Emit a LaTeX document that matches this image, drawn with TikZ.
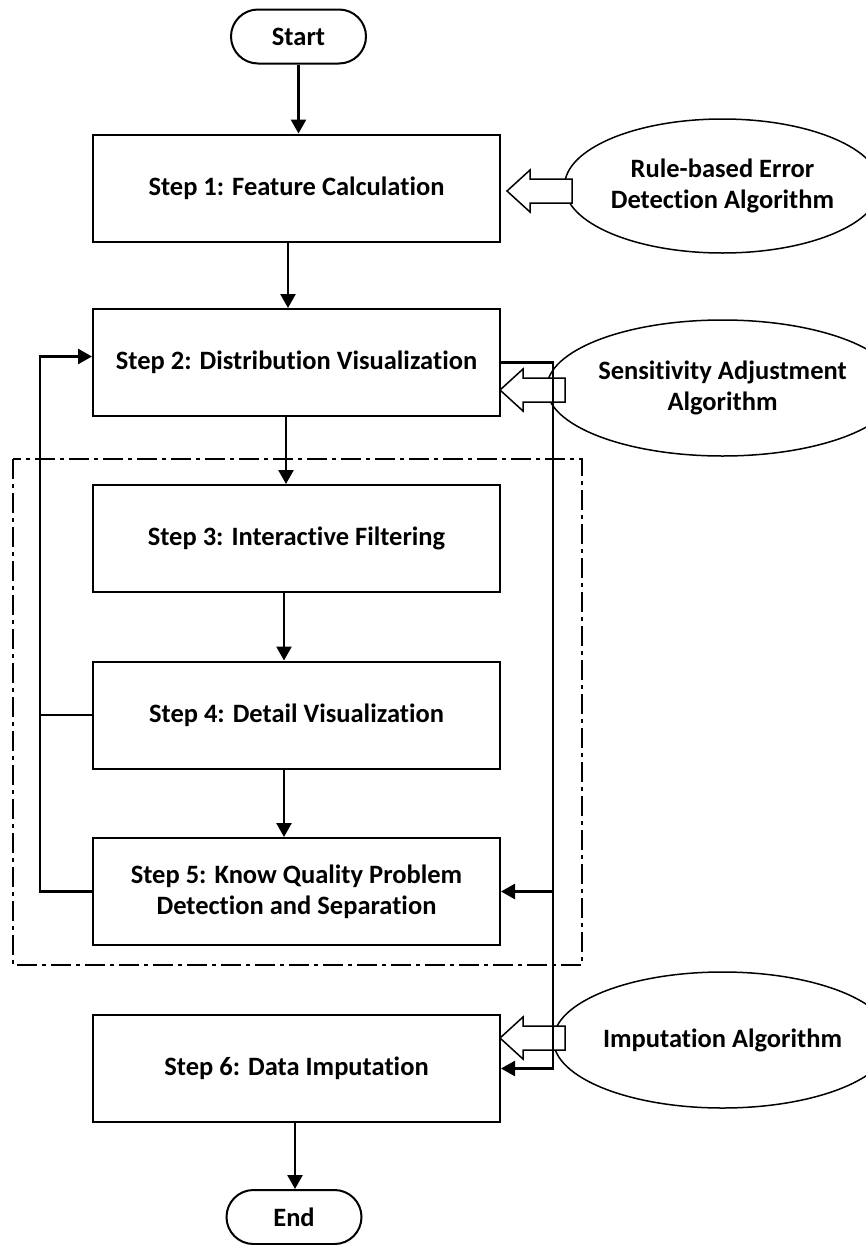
\documentclass[tikz,border=0pt]{standalone}
\usepackage{fontspec}
\setmainfont{Carlito}[Ligatures=NoCommon]
\usetikzlibrary{arrows.meta,shapes.geometric}
\begin{document}
\begin{tikzpicture}[x=1pt,y=-1pt,
  every node/.style={font=\fontsize{26.5}{31}\selectfont\bfseries, align=center},
  stepbox/.style={draw, line width=2pt, minimum width=407pt, minimum height=107pt, inner sep=0pt},
  term/.style={draw, line width=2pt, minimum width=135pt, minimum height=54pt, rounded corners=27pt, inner sep=0pt},
  algo/.style={draw, ellipse, line width=1.5pt, inner sep=0pt},
  conn/.style={line width=2.6pt, -{Triangle[length=14pt,width=15pt]}},
  plainline/.style={line width=2.6pt},
  frame/.style={line width=1.5pt, dash pattern=on 20pt off 5pt on 4pt off 5pt},
  hollow/.pic={\draw[line width=1.5pt, fill=white, line join=miter] (0,0) -- (23,-21) -- (23,-12) -- (65,-12) -- (65,12) -- (23,12) -- (23,21) -- cycle;}
]
\useasboundingbox (0,0) rectangle (865,1245);

% frame
\draw[frame] (13,459) rectangle (582,965);

% nodes
\node[term] (start) at (298.5,36.5) {Start};
\node[stepbox] (s1) at (296.5,188) {Step 1: Feature Calculation};
\node[stepbox] (s2) at (296.5,362.5) {Step 2: Distribution Visualization};
\node[stepbox] (s3) at (296.5,538.5) {Step 3: Interactive Filtering};
\node[stepbox] (s4) at (296.5,715) {Step 4: Detail Visualization};
\node[stepbox] (s5) at (296.5,891.5) {Step 5: Know Quality Problem\\Detection and Separation};
\node[stepbox] (s6) at (296.5,1068.5) {Step 6: Data Imputation};
\node[term] (end) at (294,1217) {End};

\node[algo, minimum width=283pt, minimum height=134pt] (e1) at (722.5,186) {Rule-based Error\\Detection Algorithm};
\node[algo, minimum width=283pt, minimum height=136pt] (e2) at (722.5,388) {Sensitivity Adjustment\\Algorithm};
\node[algo, minimum width=283pt, minimum height=136pt] (e3) at (722.5,1040) {Imputation Algorithm};

% hollow arrows
\pic at (507,191) {hollow};
\pic at (500,390) {hollow};
\pic at (500,1038) {hollow};

% main flow
\draw[conn] (start.south) -- (start.south |- s1.north);
\draw[conn] ([xshift=-8.5pt]s1.south) -- ([xshift=-8.5pt]s1.south |- s2.north);
\draw[conn] ([xshift=-10.5pt]s2.south) -- ([xshift=-10.5pt]s2.south |- s3.north);
\draw[conn] ([xshift=-12.5pt]s3.south) -- ([xshift=-12.5pt]s3.south |- s4.north);
\draw[conn] ([xshift=-12.5pt]s4.south) -- ([xshift=-12.5pt]s4.south |- s5.north);
\draw[conn] ([xshift=-1.5pt]s6.south) -- ([xshift=-1.5pt]s6.south |- end.north);

% right loop
\coordinate (rx) at (553,0);
\draw[conn] (s2.east) -| (rx |- s6.east) -- (s6.east);
\draw[conn] (rx |- s5.east) -- (s5.east);

% left loop
\coordinate (lx) at (40,0);
\coordinate (s2in) at ([yshift=6pt]s2.west);
\draw[conn] (s5.west) -- (lx |- s5.west) -- (lx |- s2in) -- (s2in);
\draw[plainline] (s4.west) -- (lx |- s4.west);
\end{tikzpicture}
\end{document}
